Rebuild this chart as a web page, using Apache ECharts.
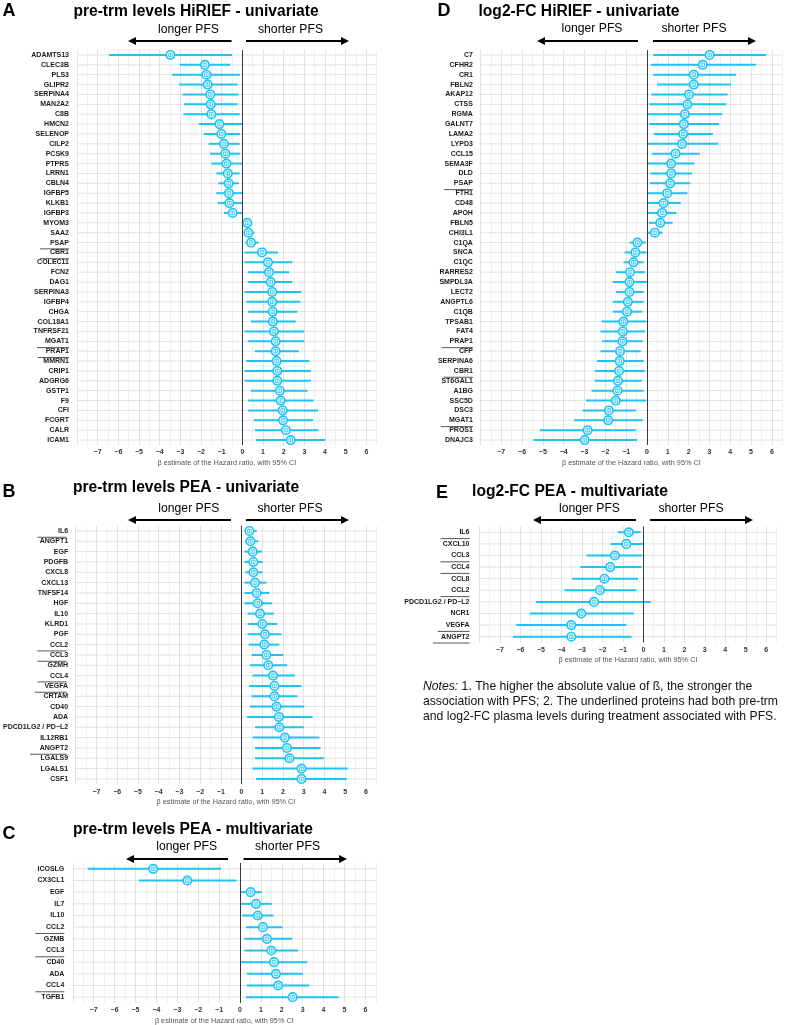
<!DOCTYPE html>
<html><head><meta charset="utf-8">
<script src="https://cdn.jsdelivr.net/npm/echarts@6/dist/echarts.min.js"></script>
<style>html,body{margin:0;padding:0;background:#fff}#c{width:787px;height:1025px}</style>
</head><body><div id="c"></div>
<script>
// ---------- DATA ----------
// Panel A: pre-trm levels HiRIEF - univariate
const catsA = ['ADAMTS13','CLEC3B','PLS3','GLIPR2','SERPINA4','MAN2A2','C8B','HMCN2','SELENOP','CILP2','PCSK9','PTPRS','LRRN1','CBLN4','IGFBP5','KLKB1','IGFBP3','MYOM3','SAA2','PSAP','CBR1','COLEC11','FCN2','DAG1','SERPINA3','IGFBP4','CHGA','COL18A1','TNFRSF21','MGAT1','PRAP1','MMRN1','CRIP1','ADGRG6','GSTP1','F9','CFI','FCGRT','CALR','ICAM1'];
const betaA = [-3.48,-1.81,-1.74,-1.68,-1.55,-1.53,-1.50,-1.11,-1.02,-0.89,-0.82,-0.77,-0.71,-0.66,-0.65,-0.63,-0.47,0.24,0.29,0.42,0.95,1.24,1.29,1.37,1.45,1.45,1.47,1.48,1.53,1.61,1.61,1.66,1.69,1.69,1.81,1.85,1.95,1.97,2.11,2.34];
const loA   = [-6.44,-3.03,-3.40,-3.06,-2.89,-2.82,-2.85,-2.11,-1.87,-1.63,-1.56,-1.50,-1.26,-1.16,-1.26,-1.19,-0.90,0.08,0.13,0.15,0.11,0.11,0.26,0.26,0.11,0.19,0.27,0.42,0.11,0.26,0.60,0.19,0.11,0.11,0.42,0.27,0.27,0.55,0.61,0.65];
const hiA   = [-0.50,-0.58,-0.10,-0.23,-0.19,-0.23,-0.13,0.00,-0.10,-0.13,-0.10,0.00,-0.13,-0.16,0.00,0.00,0.00,0.42,0.58,0.79,1.73,2.42,2.27,2.42,2.85,2.81,2.66,2.58,3.00,3.00,2.73,3.24,3.31,3.31,3.15,3.45,3.66,3.42,3.68,4.00];
const ulA = ['PSAP','CBR1','MGAT1','PRAP1'];

// Panel B: pre-trm levels PEA - univariate
const catsB = ['IL6','ANGPT1','EGF','PDGFB','CXCL8','CXCL13','TNFSF14','HGF','IL10','KLRD1','PGF','CCL2','CCL3','GZMH','CCL4','VEGFA','CRTAM','CD40','ADA','PDCD1LG2 / PD\u2212L2','IL12RB1','ANGPT2','LGALS9','LGALS1','CSF1'];
const betaB = [0.38,0.43,0.54,0.57,0.57,0.65,0.73,0.78,0.89,1.00,1.13,1.10,1.20,1.29,1.52,1.59,1.59,1.69,1.80,1.82,2.09,2.19,2.31,2.89,2.89];
const loB   = [0.18,0.18,0.14,0.14,0.18,0.14,0.14,0.14,0.29,0.29,0.29,0.35,0.49,0.41,0.54,0.37,0.48,0.41,0.27,0.65,0.54,0.65,0.65,0.54,0.70];
const hiB   = [0.73,0.80,0.99,1.02,1.02,1.20,1.34,1.47,1.56,1.72,1.93,1.82,2.01,2.20,2.57,2.89,2.70,3.03,3.43,3.00,3.75,3.81,3.97,5.12,5.07];
const ulB = ['IL6','CCL2','CCL3','CCL4','VEGFA','ANGPT2'];

// Panel C: pre-trm levels PEA - multivariate
const catsC = ['ICOSLG','CX3CL1','EGF','IL7','IL10','CCL2','GZMB','CCL3','CD40','ADA','CCL4','TGFB1'];
const betaC = [-4.15,-2.52,0.51,0.77,0.85,1.10,1.29,1.50,1.63,1.72,1.83,2.52];
const loC   = [-7.29,-4.83,0.03,0.03,0.11,0.29,0.21,0.21,0.03,0.33,0.33,0.29];
const hiC   = [-0.91,-0.16,1.04,1.52,1.60,2.04,2.50,2.79,3.22,3.00,3.32,4.72];
const ulC = ['CCL2','CCL3','CCL4'];

// Panel D: log2-FC HiRIEF - univariate
const catsD = ['C7','CFHR2','CR1','FBLN2','AKAP12','CTSS','RGMA','GALNT7','LAMA2','LYPD3','CCL15','SEMA3F','DLD','PSAP','FTH1','CD48','APOH','FBLN5','CHI3L1','C1QA','SNCA','C1QC','RARRES2','SMPDL3A','LECT2','ANGPTL6','C1QB','TPSAB1','FAT4','PRAP1','CFP','SERPINA6','CBR1','ST6GAL1','A1BG','SSC5D','DSC3','MGAT1','PROS1','DNAJC3'];
const betaD = [3.01,2.68,2.25,2.25,2.02,1.94,1.82,1.77,1.74,1.69,1.37,1.16,1.16,1.11,0.97,0.80,0.73,0.64,0.38,-0.46,-0.56,-0.65,-0.81,-0.84,-0.84,-0.92,-0.96,-1.13,-1.16,-1.18,-1.29,-1.31,-1.34,-1.39,-1.42,-1.50,-1.83,-1.86,-2.85,-2.99];
const loD   = [0.30,0.18,0.30,0.49,0.21,0.11,0.00,0.11,0.33,0.00,0.24,0.00,0.16,0.14,0.00,0.00,0.03,0.10,0.00,-0.83,-1.07,-1.13,-1.48,-1.64,-1.48,-1.64,-1.64,-2.18,-2.23,-2.15,-2.23,-2.40,-2.50,-2.50,-2.66,-2.93,-3.09,-3.49,-5.14,-5.46];
const hiD   = [5.72,5.24,4.28,4.04,3.87,3.81,3.61,3.46,3.17,3.42,2.53,2.28,2.15,2.07,1.94,1.62,1.42,1.23,0.75,-0.06,-0.03,-0.16,-0.10,0.00,-0.16,-0.16,-0.22,-0.03,-0.10,-0.21,-0.30,-0.16,-0.10,-0.25,-0.16,-0.03,-0.54,-0.21,-0.54,-0.48];
const ulD = ['PSAP','PRAP1','CBR1','MGAT1'];

// Panel E: log2-FC PEA - multivariate
const catsE = ['IL6','CXCL10','CCL3','CCL4','CCL8','CCL2','PDCD1LG2 / PD\u2212L2','NCR1','VEGFA','ANGPT2'];
const betaE = [-0.71,-0.83,-1.39,-1.62,-1.90,-2.12,-2.41,-3.03,-3.52,-3.52];
const loE   = [-1.25,-1.60,-2.77,-3.08,-3.47,-3.84,-5.25,-5.54,-6.21,-6.37];
const hiE   = [-0.13,0.00,-0.05,-0.08,-0.26,-0.34,0.36,-0.47,-0.83,-0.58];
const ulE = ['IL6','CCL3','CCL4','CCL2','VEGFA','ANGPT2'];

const xTitle = '\u03b2 estimate of the Hazard ratio, with 95% CI';

// ---------- LAYOUT ----------
const panels = [
  {cats:catsA, beta:betaA, lo:loA, hi:hiA, ul:ulA, grid:{left:77, top:50, width:299.7, height:395}, lblMargin:8},
  {cats:catsB, beta:betaB, lo:loB, hi:hiB, ul:ulB, grid:{left:74, top:525.8, width:302.3, height:258.3}, lblMargin:7.5},
  {cats:catsC, beta:betaC, lo:loC, hi:hiC, ul:ulC, grid:{left:72.8, top:863, width:303, height:141.8}, lblMargin:8.5},
  {cats:catsD, beta:betaD, lo:loD, hi:hiD, ul:ulD, grid:{left:480.4, top:50, width:301.9, height:395}, lblMargin:7.5},
  {cats:catsE, beta:betaE, lo:loE, hi:hiE, ul:ulE, grid:{left:479.5, top:526.5, width:297, height:116}, lblMargin:10}
];

const BLUE = '#1fc3f3';
const FONT = '"Liberation Sans", Arial, Helvetica, sans-serif';
const TXT = '#1a1a1a';
const GRIDMAJ = '#e2e2e2', GRIDMIN = '#f0f0f0';

function renderItem(params, api) {
  const y = api.value(0);
  const lo = api.coord([api.value(2), y]);
  const hi = api.coord([api.value(3), y]);
  const p = api.coord([api.value(1), y]);
  const cs = params.coordSys;
  return {type:'group', children:[
    {type:'line', z2:-5, shape:{x1:cs.x, y1:p[1], x2:cs.x + cs.width, y2:p[1]}, style:{stroke:GRIDMAJ, lineWidth:1}},
    {type:'line', shape:{x1:lo[0], y1:lo[1], x2:hi[0], y2:hi[1]}, style:{stroke:BLUE, lineWidth:2}},
    {type:'circle', shape:{cx:p[0], cy:p[1], r:4.2}, style:{fill:'#fff', stroke:BLUE, lineWidth:1.7}},
    {type:'rect', shape:{x:p[0]-1.8, y:p[1]-1.8, width:3.6, height:3.6}, style:{fill:'none', stroke:BLUE, lineWidth:0.8}},
    {type:'line', shape:{x1:p[0], y1:p[1]-1.8, x2:p[0], y2:p[1]+1.8}, style:{stroke:BLUE, lineWidth:0.7}}
  ]};
}

const grids = [], xAxes = [], yAxes = [], series = [];
panels.forEach((P, i) => {
  grids.push(P.grid);
  xAxes.push({
    type:'value', gridIndex:i, min:-8, max:6.5, interval:0.5,
    axisLine:{show:false}, axisTick:{show:false},
    splitLine:{show:true, lineStyle:{color:[GRIDMAJ, GRIDMIN], width:1}},
    axisLabel:{margin:4, fontSize:7, fontWeight:'bold', color:'#333', fontFamily:FONT,
      formatter:v => (Number.isInteger(v) && v > -8) ? (v < 0 ? '\u2212' + Math.abs(v) : String(v)) : ''},
    name:xTitle, nameLocation:'middle', nameGap:14,
    nameTextStyle:{fontSize:7.3, color:'#555', fontFamily:FONT}
  });
  yAxes.push({
    type:'category', gridIndex:i, data:P.cats, inverse:true,
    axisLine:{show:false}, axisTick:{show:false}, splitLine:{show:false},
    axisLabel:{interval:0, margin:P.lblMargin, fontFamily:FONT, fontSize:7, fontWeight:'bold', color:TXT}
  });
  series.push({
    type:'custom', xAxisIndex:i, yAxisIndex:i, renderItem:renderItem, z:3,
    encode:{x:[1,2,3], y:0},
    data:P.cats.map((c, k) => [k, P.beta[k], P.lo[k], P.hi[k]]),
    markLine:{silent:true, symbol:'none', label:{show:false}, animation:false, z:4,
      lineStyle:{color:'#3a3a3a', width:1, type:'solid'}, data:[{xAxis:0}]}
  });
});

// ---------- ANNOTATIONS ----------
function txt(x, y, s, size, weight, align) {
  return {type:'text', x:x, y:y, silent:true, style:{text:s, fontSize:size, fontWeight:weight||'normal',
    fontFamily:FONT, fill:'#000', align:align||'center', verticalAlign:'middle'}};
}
function arrow(x1, x2, y) {
  const d = x2 > x1 ? 1 : -1;
  return [
    {type:'line', silent:true, shape:{x1:x1, y1:y, x2:x2 - d*6, y2:y}, style:{stroke:'#000', lineWidth:2}},
    {type:'polygon', silent:true, shape:{points:[[x2, y], [x2 - d*8, y - 4], [x2 - d*8, y + 4]]}, style:{fill:'#000'}}
  ];
}
const heads = [
  {L:'A', lx:9,   ly:11,  title:'pre-trm levels HiRIEF - univariate', tx:196, ty:11.5, lpx:188.5, spx:290.5, py:30,  ay:41,  a1:[231.5,128], a2:[246,349]},
  {L:'B', lx:9,   ly:492, title:'pre-trm levels PEA - univariate',    tx:186, ty:488,  lpx:188.8, spx:290,   py:509, ay:520, a1:[231,128],   a2:[246,349]},
  {L:'C', lx:9,   ly:834, title:'pre-trm levels PEA - multivariate',  tx:193, ty:830,  lpx:186.7, spx:287.5, py:847, ay:859, a1:[228,126],   a2:[243.5,347]},
  {L:'D', lx:444, ly:11,  title:'log2-FC HiRIEF - univariate',        tx:579, ty:11.5, lpx:592,   spx:694,   py:29,  ay:41,  a1:[638,537],   a2:[653,756]},
  {L:'E', lx:442, ly:493, title:'log2-FC PEA - multivariate',         tx:570, ty:492,  lpx:589.5, spx:691,   py:509, ay:520, a1:[636,533],   a2:[650,753]}
];
const graphics = [];
heads.forEach(h => {
  graphics.push(txt(h.lx, h.ly, h.L, 18, 'bold'));
  graphics.push(txt(h.tx, h.ty, h.title, 15.6, 'bold'));
  graphics.push(txt(h.lpx, h.py, 'longer PFS', 12.2));
  graphics.push(txt(h.spx, h.py, 'shorter PFS', 12.2));
  graphics.push(...arrow(h.a1[0], h.a1[1], h.ay));
  graphics.push(...arrow(h.a2[0], h.a2[1], h.ay));
});
graphics.push({type:'text', x:423, y:679.5, silent:true, style:{
  text:'{i|Notes:} 1. The higher the absolute value of \u00df, the stronger the\nassociation with PFS; 2. The underlined proteins had both pre-trm\nand log2-FC plasma levels during treatment associated with PFS.',
  fontSize:12.2, fontFamily:FONT, fill:'#111', align:'left', verticalAlign:'top', lineHeight:15,
  rich:{i:{fontStyle:'italic', fontSize:12.2, fontFamily:FONT, fill:'#111', lineHeight:15}}
}});

const chart = echarts.init(document.getElementById('c'), null, {renderer:'canvas'});
chart.setOption({
  animation:false, backgroundColor:'#fff',
  grid:grids, xAxis:xAxes, yAxis:yAxes, series:series, graphic:graphics
});

// underlines below the highlighted protein labels, placed via the axis scales
const ctx = document.createElement('canvas').getContext('2d');
ctx.font = 'bold 7px ' + FONT;
const ulLines = [];
panels.forEach((P, i) => {
  P.ul.forEach(name => {
    const k = P.cats.indexOf(name);
    const pt = chart.convertToPixel({gridIndex:i}, [0, k]);
    const xr = P.grid.left - P.lblMargin;
    const w = Math.max(29, ctx.measureText(name).width + 8);
    ulLines.push({type:'line', silent:true, shape:{x1:xr - w, y1:pt[1] + 6.3, x2:xr, y2:pt[1] + 6.3},
      style:{stroke:'#444', lineWidth:0.9}});
  });
});
chart.setOption({graphic:graphics.concat(ulLines)});
</script></body></html>
